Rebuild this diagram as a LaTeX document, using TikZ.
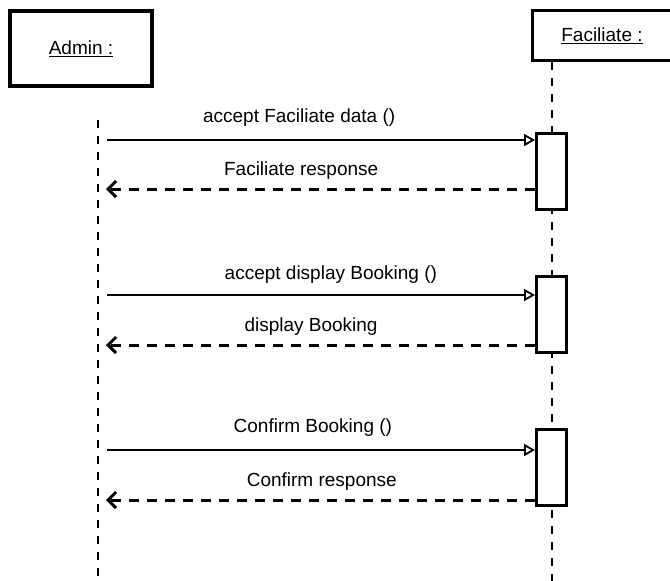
\documentclass[tikz,border=0pt]{standalone}
\usepackage{fontspec}
\setmainfont{Liberation Sans}
\usetikzlibrary{positioning, arrows.meta, calc}

\begin{document}
\begin{tikzpicture}[
  x=1pt, y=-1pt,
  font=\fontsize{19}{23}\selectfont,
  obj/.style={draw, line width=3pt, inner sep=0pt},
  act/.style={draw, fill=white, line width=3pt, minimum width=30pt, minimum height=76pt, inner sep=0pt},
  life/.style={line width=2.8pt, dash pattern=on 8pt off 8pt},
  call/.style={line width=1.8pt, -{Triangle[open, length=11pt, width=12pt, line width=1.8pt]}},
  reply/.style={line width=3pt, dash pattern=on 10pt off 8pt, -{Straight Barb[length=8pt, width=16pt, line width=3pt]}},
  msg/.style={inner sep=0pt},
]
\useasboundingbox (0,0) rectangle (670,581);
% ---- the two objects ----
\node[obj, line width=4pt, minimum width=142pt, minimum height=75pt] (admin) at (81,48.5) {\underline{Admin :}};
\node[obj, minimum width=139pt, minimum height=50pt] (fac) at (602,35.5) {\underline{Faciliate :}};
% ---- lifelines ----
\coordinate (adminTop) at (98,120);
\coordinate (adminEnd) at (98,581);
\coordinate (facEnd) at (552,581);
\draw[life] (adminTop) -- (adminEnd);
\draw[life] (facEnd |- fac.south) -- (facEnd);
% ---- activations on Faciliate ----
\node[act] (act1) at (551.5,171) {};
\node[act] (act2) at (551.5,314) {};
\node[act] (act3) at (551.5,467) {};
% ---- message start points on Admin ----
\coordinate (m1) at (107,140);
\coordinate (r1) at (106,189);
\coordinate (m2) at (107,295);
\coordinate (r2) at (106,345);
\coordinate (m3) at (107,450);
\coordinate (r3) at (106,500);
% ---- messages ----
\draw[call] (m1) -- (m1 -| act1.west)
  node[msg, pos=0.449, yshift=22pt]{accept Faciliate data ()};
\draw[reply] (r1 -| act1.west) -- (r1)
  node[msg, pos=0.545, yshift=18pt]{Faciliate response};
\draw[call] (m2) -- (m2 -| act2.west)
  node[msg, pos=0.523, yshift=20pt]{accept display Booking ()};
\draw[reply] (r2 -| act2.west) -- (r2)
  node[msg, pos=0.522, yshift=18pt]{display Booking};
\draw[call] (m3) -- (m3 -| act3.west)
  node[msg, pos=0.481, yshift=22pt]{Confirm Booking ()};
\draw[reply] (r3 -| act3.west) -- (r3)
  node[msg, pos=0.497, yshift=18pt]{Confirm response};
\end{tikzpicture}
\end{document}
